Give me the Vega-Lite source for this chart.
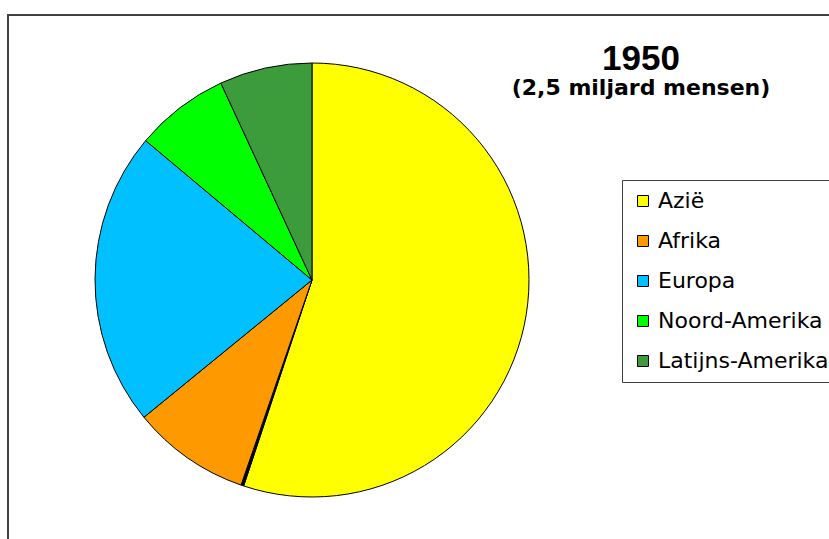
{
  "$schema": "https://vega.github.io/schema/vega-lite/v6.json",
  "autosize": "none",
  "width": 830,
  "height": 530,
  "padding": {"left": 8, "top": 15, "right": 0, "bottom": 0},
  "background": "white",
  "config": {
    "view": {"stroke": null}
  },
  "title": {
    "text": "1950",
    "subtitle": "(2,5 miljard mensen)",
    "anchor": "middle",
    "frame": "group",
    "dx": 218,
    "dy": 89,
    "font": "Liberation Sans",
    "fontSize": 35,
    "fontWeight": "bold",
    "color": "black",
    "subtitleFont": "DejaVu Sans",
    "subtitleFontSize": 22,
    "subtitleFontWeight": "bold",
    "subtitleColor": "black",
    "subtitlePadding": 1
  },
  "data": {
    "values": [
      {"regio": "Azië", "aandeel": 55.1, "volgorde": 1},
      {"regio": "Oceanië", "aandeel": 0.2, "volgorde": 2},
      {"regio": "Afrika", "aandeel": 8.8, "volgorde": 3},
      {"regio": "Europa", "aandeel": 22.0, "volgorde": 4},
      {"regio": "Noord-Amerika", "aandeel": 7.0, "volgorde": 5},
      {"regio": "Latijns-Amerika", "aandeel": 6.9, "volgorde": 6}
    ]
  },
  "layer": [
    {
      "mark": {"type": "rect", "fill": null, "fillOpacity": 0, "stroke": "#404040", "strokeWidth": 2},
      "encoding": {}
    },
    {
      "mark": {
        "type": "arc",
        "outerRadius": 217,
        "x": 304,
        "y": 265,
        "stroke": "black",
        "strokeWidth": 1
      },
      "encoding": {
        "theta": {"field": "aandeel", "type": "quantitative", "stack": true},
        "order": {"field": "volgorde", "type": "quantitative", "sort": "ascending"},
        "color": {
          "field": "regio",
          "type": "nominal",
          "scale": {
            "domain": ["Azië", "Afrika", "Europa", "Noord-Amerika", "Latijns-Amerika", "Oceanië"],
            "range": ["#FFFF00", "#FF9900", "#00C0FF", "#00FF00", "#3C9C3C", "#000000"]
          },
          "legend": {
            "title": null,
            "values": ["Azië", "Afrika", "Europa", "Noord-Amerika", "Latijns-Amerika"],
            "orient": "none",
            "legendX": 614,
            "legendY": 165,
            "strokeColor": "#404040",
            "fillColor": "white",
            "padding": 10,
            "rowPadding": 18,
            "symbolType": "square",
            "symbolSize": 121,
            "symbolStrokeColor": "black",
            "symbolStrokeWidth": 1,
            "symbolOpacity": 1,
            "labelFont": "DejaVu Sans",
            "labelFontSize": 22,
            "labelColor": "black",
            "labelOffset": 4,
            "labelLimit": 400
          }
        }
      }
    }
  ]
}
